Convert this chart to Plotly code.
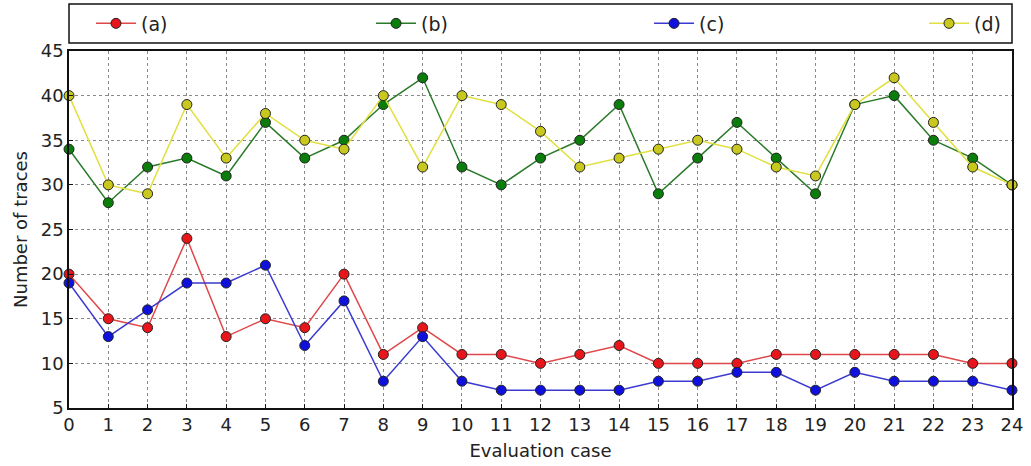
import plotly.graph_objects as go

cases = list(range(25))
series_a = [20, 15, 14, 24, 13, 15, 14, 20, 11, 14, 11, 11, 10, 11, 12, 10, 10, 10, 11, 11, 11, 11, 11, 10, 10]
series_b = [34, 28, 32, 33, 31, 37, 33, 35, 39, 42, 32, 30, 33, 35, 39, 29, 33, 37, 33, 29, 39, 40, 35, 33, 30]
series_c = [19, 13, 16, 19, 19, 21, 12, 17, 8, 13, 8, 7, 7, 7, 7, 8, 8, 9, 9, 7, 9, 8, 8, 8, 7]
series_d = [40, 30, 29, 39, 33, 38, 35, 34, 40, 32, 40, 39, 36, 32, 33, 34, 35, 34, 32, 31, 39, 42, 37, 32, 30]
names = ["(a)", "(b)", "(c)", "(d)"]
colors = ["#e8161b", "#0a7d0a", "#1010dd", "#c8c81e"]
line_colors = ["#e0474a", "#2a7a2a", "#3a3ad0", "#e0e040"]
legend_ids = ["legend", "legend2", "legend3", "legend4"]
legend_x = [0.0233, 0.3203, 0.6151, 0.9067]

fig = go.Figure()
for ys, nm, c, lc, lid in zip([series_a, series_b, series_c, series_d], names, colors, line_colors, legend_ids):
    fig.add_trace(go.Scatter(
        x=cases, y=ys, name=nm, mode="lines+markers",
        line=dict(color=lc, width=1.5),
        marker=dict(color=c, size=10, line=dict(color="#222", width=1)),
        cliponaxis=False, legend=lid,
    ))

font = "DejaVu Sans, sans-serif"
legend_common = dict(orientation="h", xanchor="left", y=1.077, yanchor="middle",
                     font=dict(size=19, family=font, color="#222"),
                     bgcolor="rgba(0,0,0,0)", itemwidth=40)
layout_legends = {lid: dict(x=lx, **legend_common) for lid, lx in zip(legend_ids, legend_x)}

fig.update_layout(
    width=1031, height=466,
    margin=dict(l=69, r=19, t=51, b=58, autoexpand=False),
    paper_bgcolor="white", plot_bgcolor="white",
    font=dict(family=font, color="#222", size=18),
    showlegend=True,
    xaxis=dict(
        range=[0, 24], tickmode="linear", dtick=1, tick0=0,
        showline=True, linecolor="#111", linewidth=1.5, mirror=True,
        showgrid=True, gridcolor="#8a8a8a", griddash="dot", gridwidth=1,
        ticks="inside", ticklen=4, tickcolor="#111",
        tickfont=dict(size=18), zeroline=False, ticklabeloverflow="allow",
        title=dict(text="Evaluation case", font=dict(size=18), standoff=10),
    ),
    yaxis=dict(
        range=[5, 45], tickmode="linear", dtick=5, tick0=5,
        showline=True, linecolor="#111", linewidth=1.5, mirror=True,
        showgrid=True, gridcolor="#8a8a8a", griddash="dot", gridwidth=1,
        ticks="inside", ticklen=4, tickcolor="#111",
        tickfont=dict(size=18), zeroline=False, ticklabeloverflow="allow",
        title=dict(text="Number of traces", font=dict(size=18), standoff=8),
    ),
    shapes=[dict(type="rect", xref="paper", yref="paper", x0=0, x1=1,
                 y0=1.0224, y1=1.1317, line=dict(color="#111", width=1.5),
                 fillcolor="rgba(0,0,0,0)", layer="above")],
    **layout_legends,
)

fig.write_html("out.html")
